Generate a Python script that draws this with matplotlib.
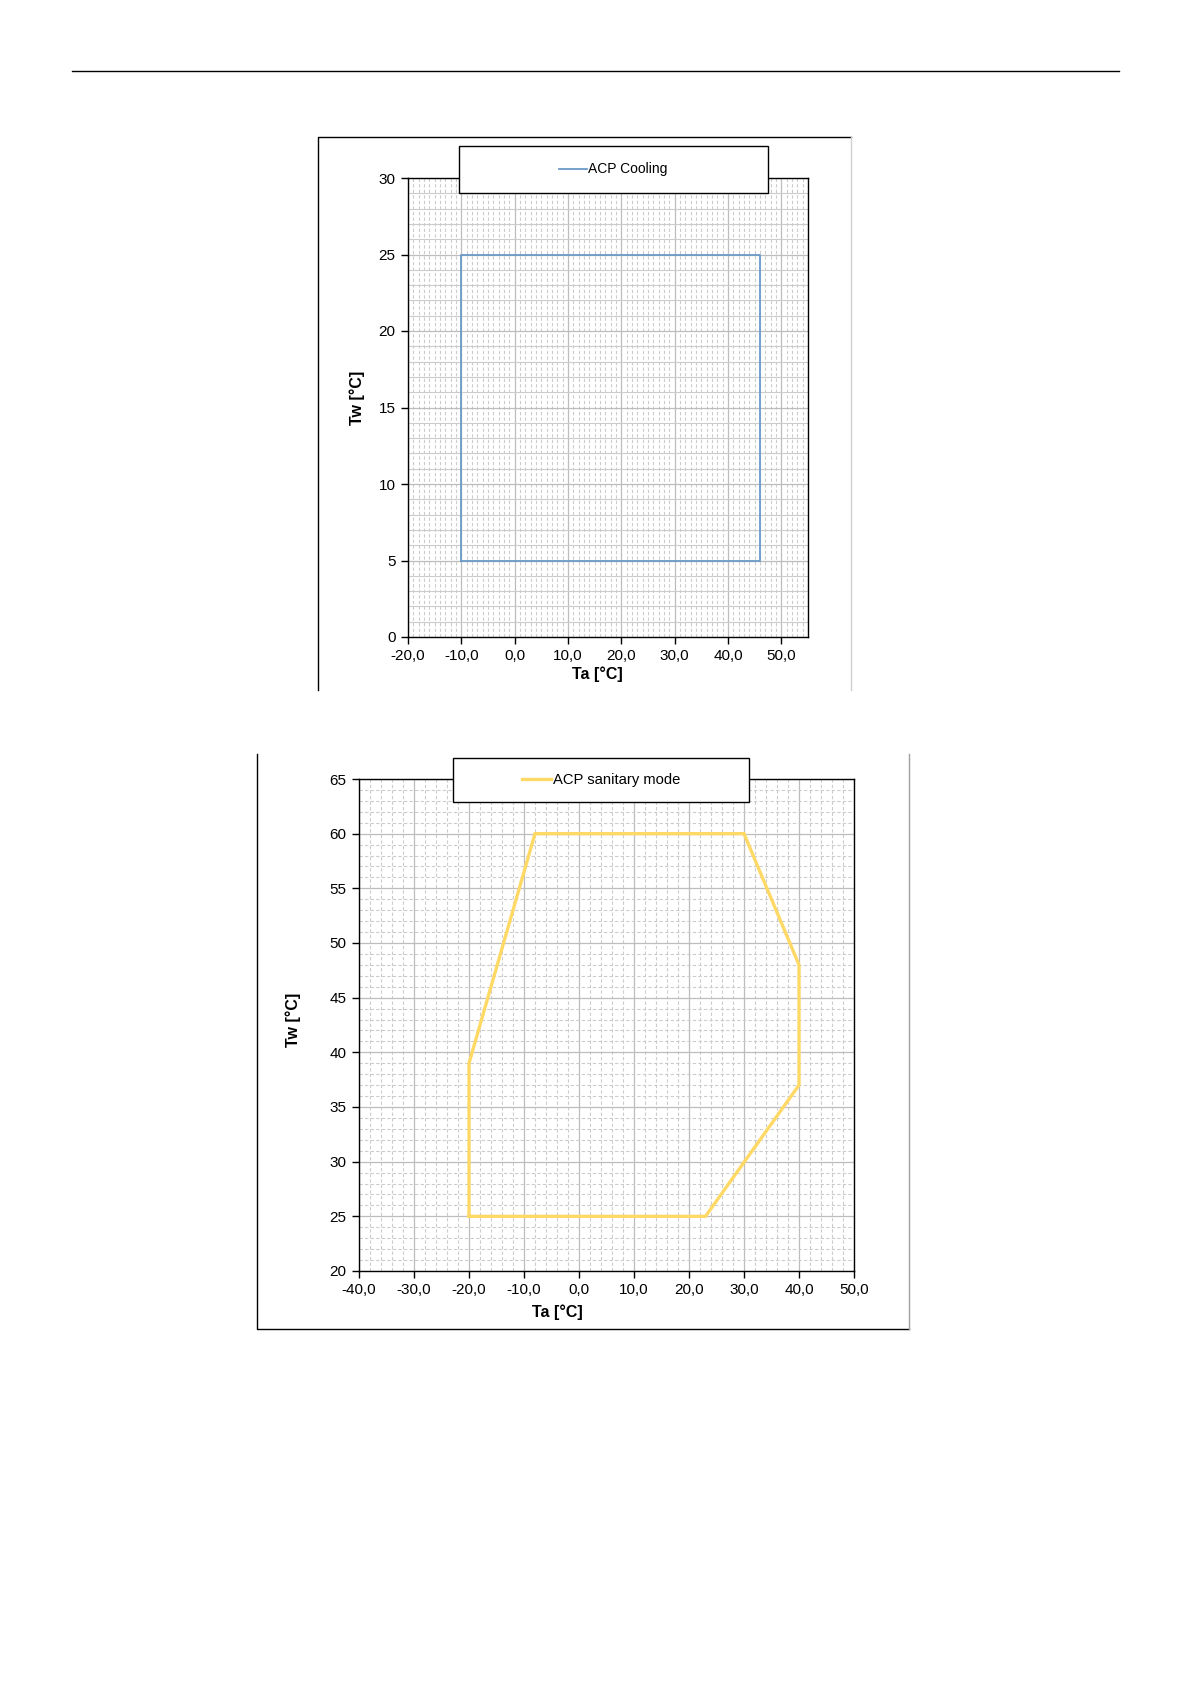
import matplotlib
matplotlib.use("Agg")
import matplotlib.pyplot as plt
from matplotlib.lines import Line2D
from matplotlib.patches import Rectangle
from matplotlib.ticker import MultipleLocator, FuncFormatter

plt.rcParams["font.family"] = ["Liberation Sans", "DejaVu Sans"]

# cooling envelope
cool_ta = [-10, 46, 46, -10, -10]
cool_tw = [5, 5, 25, 25, 5]
cool_label = "ACP Cooling"

# sanitary envelope
san_ta = [-20, -20, -8, 30, 40, 40, 23, -20]
san_tw = [25, 39, 60, 60, 48, 37, 25, 25]
san_label = "ACP sanitary mode"

W, H = 1191, 1684
fig = plt.figure(figsize=(W / 100, H / 100), dpi=100)


def box(l, t, r, b):
    return [l / W, 1 - b / H, (r - l) / W, (b - t) / H]


def fig_line(xs, ys, color="black", lw=1.0):
    fig.add_artist(Line2D([x / W for x in xs], [1 - y / H for y in ys],
                          transform=fig.transFigure, color=color, lw=lw))


def comma(v, pos):
    return f"{v:.1f}".replace(".", ",")


def setup(ax, xlim, ylim, xmaj, xmin, ymaj, ymin, ygrid_solid):
    ax.set_xlim(*xlim)
    ax.set_ylim(*ylim)
    ax.xaxis.set_major_locator(MultipleLocator(xmaj))
    ax.xaxis.set_minor_locator(MultipleLocator(xmin))
    ax.yaxis.set_major_locator(MultipleLocator(ymaj))
    ax.yaxis.set_minor_locator(MultipleLocator(ymin))
    ax.xaxis.set_major_formatter(FuncFormatter(comma))
    ax.grid(which="major", color="#bdbdbd", lw=0.9, ls="-")
    ax.grid(which="minor", axis="x", color="#cccccc", lw=0.8, ls=(0, (3, 2)))
    ax.grid(which="minor", axis="y", color="#cccccc", lw=0.8,
            ls="-" if ygrid_solid else (0, (3, 2)))
    ax.set_axisbelow(True)
    ax.tick_params(which="major", direction="out", length=5, width=1,
                   labelsize=11, pad=4, top=False, right=False)
    ax.tick_params(which="minor", length=0)
    for s in ax.spines.values():
        s.set_color("black")
        s.set_linewidth(1.0)
    ax.set_xlabel("Ta [°C]", fontsize=11.5, fontweight="bold")
    ax.set_ylabel("Tw [°C]", fontsize=11.5, fontweight="bold")


def legend_box(l, t, r, b, handle, label, size):
    fig.add_artist(Rectangle((l / W, 1 - b / H), (r - l) / W, (b - t) / H,
                             transform=fig.transFigure, facecolor="white",
                             edgecolor="black", lw=1.0, zorder=3))
    fig.legend(handles=[handle], labels=[label], loc="center",
               bbox_to_anchor=((l + r) / 2 / W, 1 - (t + b) / 2 / H),
               frameon=False, fontsize=size, handlelength=2.0,
               handletextpad=0.1)


# page rule
fig_line([72, 1119], [71, 71], lw=1.0)

# top chart
ax1 = fig.add_axes(box(408, 178, 808, 637))
setup(ax1, (-20, 55), (0, 30), 10, 1, 5, 1, True)
l1, = ax1.plot(cool_ta, cool_tw, color="#6a9ac8", lw=1.3)
ax1.xaxis.set_label_coords(0.473, -0.065)
ax1.yaxis.set_label_coords(-0.1075, 0.52)
fig_line([318, 318, 851], [690, 137, 137])
fig_line([851, 851], [137, 690], color="#d0d0d0")
legend_box(459, 146, 768, 193, l1, cool_label, 10)

# bottom chart
ax2 = fig.add_axes(box(359, 779, 854, 1271))
setup(ax2, (-40, 50), (20, 65), 10, 2, 5, 1, False)
l2, = ax2.plot(san_ta, san_tw, color="#ffd966", lw=2.4, solid_joinstyle="miter")
ax2.xaxis.set_label_coords(0.401, -0.067)
ax2.yaxis.set_label_coords(-0.118, 0.51)
fig_line([257, 257, 909], [754, 1329, 1329])
fig_line([909, 909], [754, 1329], color="#a0a0a0")
legend_box(453, 758, 749, 802, l2, san_label, 10.6)

fig.savefig("out.png", dpi=100)
